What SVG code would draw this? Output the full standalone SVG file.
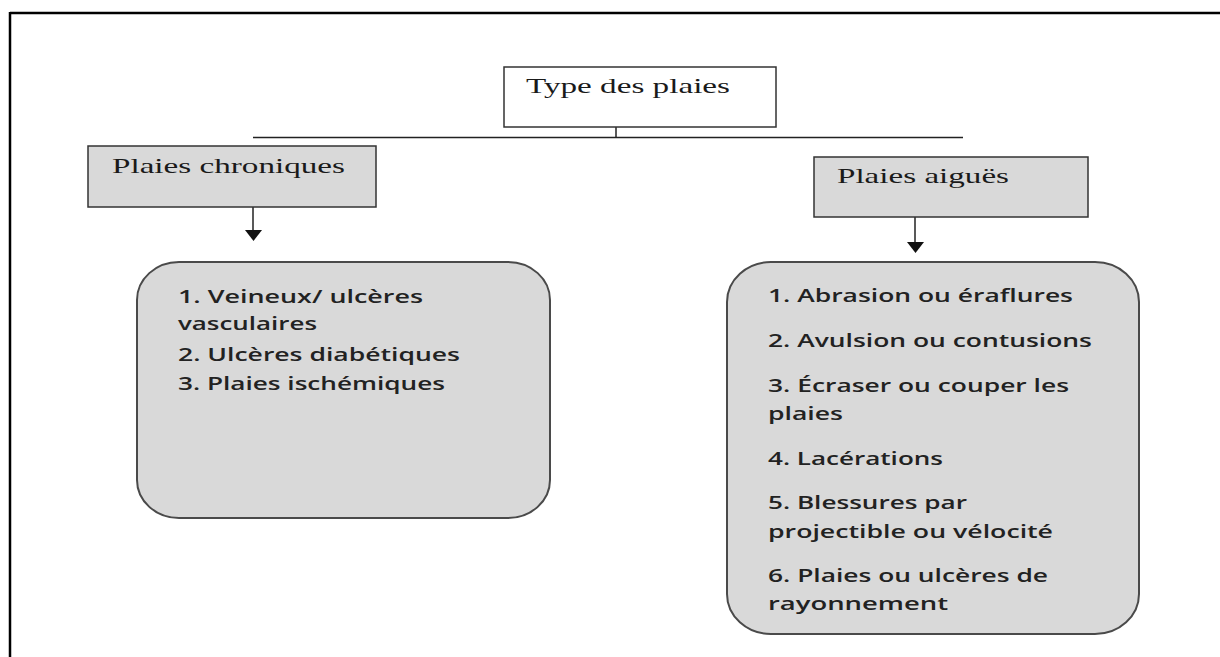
<svg xmlns="http://www.w3.org/2000/svg" width="1220" height="657" viewBox="0 0 1220 657">
<style>
.serif{font-family:"Liberation Serif","Times New Roman",serif;font-size:21px;fill:#1a1a1a}
.sans{font-family:"Open Sans","Liberation Sans",sans-serif;font-size:18px;font-weight:600;fill:#222}
.rect{fill:#d9d9d9;stroke:#333;stroke-width:1.5}
.round{fill:#d9d9d9;stroke:#4a4a4a;stroke-width:2}
.conn{stroke:#222;stroke-width:1.5;fill:none}
.head{fill:#111}
</style>
<rect width="1220" height="657" fill="#fff"/>
<g id="frame">
<line x1="10" y1="13" x2="1220" y2="13" stroke="#000" stroke-width="2.5"/>
<line x1="10" y1="12" x2="10" y2="657" stroke="#000" stroke-width="2.5"/>
</g>
<g id="connectors">
<line class="conn" x1="616" y1="127" x2="616" y2="137.5"/>
<line class="conn" x1="253" y1="137.5" x2="963" y2="137.5"/>
<path d="M253,207 V230" class="conn"/>
<path class="head" d="M245,230 L262,230 L253.5,241 Z"/>
<path d="M915,217 V242" class="conn"/>
<path class="head" d="M907,242 L924,242 L915.5,253 Z"/>
</g>
<g id="type-des-plaies">
<rect x="504" y="67" width="272" height="60" fill="#fff" stroke="#333" stroke-width="1.5"/>
<text class="serif" x="526" y="93" textLength="204" lengthAdjust="spacingAndGlyphs">Type des plaies</text>
</g>
<g id="plaies-chroniques">
<rect class="rect" x="88" y="146" width="288" height="61"/>
<text class="serif" x="112" y="173" textLength="233" lengthAdjust="spacingAndGlyphs">Plaies chroniques</text>
</g>
<g id="plaies-aigues">
<rect class="rect" x="814" y="157" width="274" height="60"/>
<text class="serif" x="837" y="183" textLength="172" lengthAdjust="spacingAndGlyphs">Plaies aiguës</text>
</g>
<g id="liste-chroniques">
<rect class="round" x="137" y="262" width="413" height="256" rx="42" ry="38"/>
<text class="sans" x="178" y="303" textLength="245" lengthAdjust="spacingAndGlyphs">1. Veineux/ ulcères</text>
<text class="sans" x="178" y="330" textLength="139" lengthAdjust="spacingAndGlyphs">vasculaires</text>
<text class="sans" x="178" y="361" textLength="282" lengthAdjust="spacingAndGlyphs">2. Ulcères diabétiques</text>
<text class="sans" x="178" y="390" textLength="267" lengthAdjust="spacingAndGlyphs">3. Plaies ischémiques</text>
</g>
<g id="liste-aigues">
<rect class="round" x="727" y="262" width="412" height="372" rx="44" ry="40"/>
<text class="sans" x="768" y="302" textLength="305" lengthAdjust="spacingAndGlyphs">1. Abrasion ou éraflures</text>
<text class="sans" x="768" y="347" textLength="324" lengthAdjust="spacingAndGlyphs">2. Avulsion ou contusions</text>
<text class="sans" x="768" y="392" textLength="301" lengthAdjust="spacingAndGlyphs">3. Écraser ou couper les</text>
<text class="sans" x="768" y="420" textLength="75" lengthAdjust="spacingAndGlyphs">plaies</text>
<text class="sans" x="768" y="465" textLength="175" lengthAdjust="spacingAndGlyphs">4. Lacérations</text>
<text class="sans" x="768" y="509" textLength="199" lengthAdjust="spacingAndGlyphs">5. Blessures par</text>
<text class="sans" x="768" y="538" textLength="285" lengthAdjust="spacingAndGlyphs">projectible ou vélocité</text>
<text class="sans" x="768" y="582" textLength="280" lengthAdjust="spacingAndGlyphs">6. Plaies ou ulcères de</text>
<text class="sans" x="768" y="610" textLength="180" lengthAdjust="spacingAndGlyphs">rayonnement</text>
</g>
</svg>
